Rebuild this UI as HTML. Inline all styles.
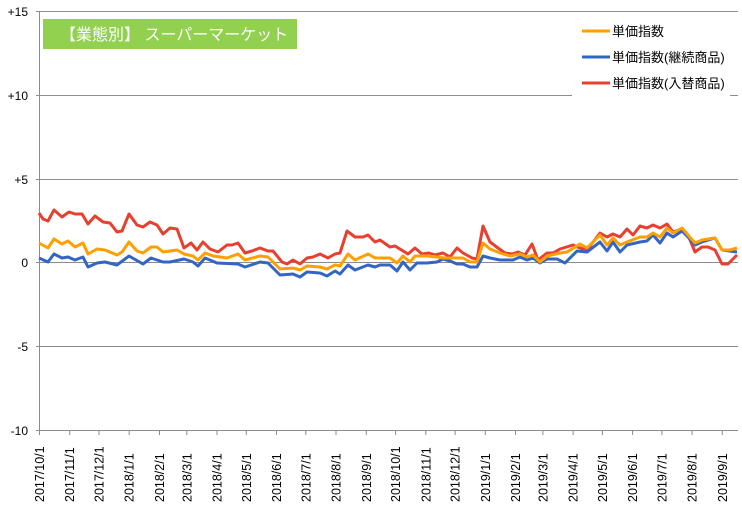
<!DOCTYPE html>
<html><head><meta charset="utf-8"><style>
body{margin:0;background:#fff;}
svg{display:block;font-family:"Liberation Sans","Noto Sans CJK JP",sans-serif;}
</style></head><body>
<svg width="742" height="510" viewBox="0 0 742 510" xmlns="http://www.w3.org/2000/svg">
<g stroke="#8c8c8c" stroke-width="1">
<line x1="36" y1="11.5" x2="738" y2="11.5"/>
<line x1="36" y1="95.5" x2="738" y2="95.5"/>
<line x1="36" y1="179.5" x2="738" y2="179.5"/>
<line x1="36" y1="262.5" x2="738" y2="262.5"/>
<line x1="36" y1="346.5" x2="738" y2="346.5"/>
<line x1="36" y1="430.5" x2="738" y2="430.5"/>
<line x1="39.5" y1="11" x2="39.5" y2="435"/>
<path d="M39.5 430v5M69.7 430v5M99 430v5M129.2 430v5M159.5 430v5M186.8 430v5M217 430v5M246.3 430v5M276.5 430v5M305.8 430v5M336 430v5M366.3 430v5M395.6 430v5M425.8 430v5M455.1 430v5M485.3 430v5M515.5 430v5M542.9 430v5M573.1 430v5M602.4 430v5M632.6 430v5M661.9 430v5M692.1 430v5M722.3 430v5"/>
</g>
<g font-size="12" fill="#000" text-anchor="end">
<text x="28" y="16">+15</text><text x="28" y="100">+10</text><text x="28" y="184">+5</text>
<text x="28" y="267">0</text><text x="28" y="351">-5</text><text x="28" y="435">-10</text>
</g>
<g font-size="12.5" fill="#000">
<text transform="translate(44,502) rotate(-90)">2017/10/1</text>
<text transform="translate(74.2,502) rotate(-90)">2017/11/1</text>
<text transform="translate(103.5,502) rotate(-90)">2017/12/1</text>
<text transform="translate(133.7,502) rotate(-90)">2018/1/1</text>
<text transform="translate(164,502) rotate(-90)">2018/2/1</text>
<text transform="translate(191.3,502) rotate(-90)">2018/3/1</text>
<text transform="translate(221.5,502) rotate(-90)">2018/4/1</text>
<text transform="translate(250.8,502) rotate(-90)">2018/5/1</text>
<text transform="translate(281,502) rotate(-90)">2018/6/1</text>
<text transform="translate(310.3,502) rotate(-90)">2018/7/1</text>
<text transform="translate(340.5,502) rotate(-90)">2018/8/1</text>
<text transform="translate(370.8,502) rotate(-90)">2018/9/1</text>
<text transform="translate(400.1,502) rotate(-90)">2018/10/1</text>
<text transform="translate(430.3,502) rotate(-90)">2018/11/1</text>
<text transform="translate(459.6,502) rotate(-90)">2018/12/1</text>
<text transform="translate(489.8,502) rotate(-90)">2019/1/1</text>
<text transform="translate(520,502) rotate(-90)">2019/2/1</text>
<text transform="translate(547.4,502) rotate(-90)">2019/3/1</text>
<text transform="translate(577.6,502) rotate(-90)">2019/4/1</text>
<text transform="translate(606.9,502) rotate(-90)">2019/5/1</text>
<text transform="translate(637.1,502) rotate(-90)">2019/6/1</text>
<text transform="translate(666.4,502) rotate(-90)">2019/7/1</text>
<text transform="translate(696.6,502) rotate(-90)">2019/8/1</text>
<text transform="translate(726.8,502) rotate(-90)">2019/9/1</text>
</g>
<rect x="572" y="12" width="158" height="85" fill="#fff"/>
<rect x="43" y="19" width="254" height="30" fill="#92d050"/>
<text x="60" y="40" font-size="16" fill="#fff">【業態別】 スーパーマーケット</text>
<g stroke-width="3" fill="none" stroke-linejoin="round">
<polyline stroke="#e84030" points="39,213 43,219 48,221 54,210 62,217 69,212 75,214 82,214 88,224 95,216 103,222 110,223 117,232 122,231 129,214 137,225 143,227 150,222 157,225 163,234 170,228 177,229 184,248 191,243 197,250 203,242 210,249 218,252 227,245 232,245 238,243 245,253 252,251 260,248 268,251 273,251 282,262 287,264 293,260 300,264 307,258 313,257 320,254 328,258 335,254 340,253 347,231 355,237 363,237 368,235 375,242 380,240 390,247 395,246 408,254 415,248 422,254 429,253 435,255 443,253 450,257 457,248 463,253 472,258 477,259 483,226 490,242 498,248 505,253 512,254 518,252 525,255 532,244 538,260 547,253 553,253 560,249 573,245 580,248 587,250 600,233 607,237 613,234 620,237 627,229 633,235 640,226 647,228 653,225 660,228 667,224 673,232 682,229 688,235 695,252 702,247 708,247 715,250 722,264 728,264 737,255"/>
<polyline stroke="#3366c4" points="39,258 48,262 54,254 62,258 68,257 75,260 83,257 88,267 97,263 105,262 117,265 129,256 143,264 151,258 163,262 170,262 184,259 193,262 198,266 205,258 217,263 238,264 245,267 260,262 268,263 280,275 293,274 300,277 307,272 320,273 327,276 335,271 340,274 348,265 355,270 368,265 375,267 380,265 390,265 397,271 403,262 410,270 417,263 427,263 437,262 443,259 450,261 457,264 463,264 470,267 477,267 483,256 490,258 500,260 513,260 520,257 527,260 533,258 540,263 547,259 557,259 565,263 577,251 587,252 600,242 607,251 613,242 620,252 627,245 640,242 647,241 653,235 660,243 667,233 673,237 682,231 688,237 695,245 702,242 715,238 722,250 737,252"/>
<polyline stroke="#ffa000" points="39,243 48,248 54,239 62,244 68,241 75,247 83,243 88,254 97,249 105,250 117,255 122,252 129,242 137,251 143,253 151,247 157,247 163,252 177,250 184,254 193,256 198,260 205,253 213,256 227,258 238,254 245,260 260,256 268,257 280,269 293,268 300,270 307,266 320,267 327,269 335,265 340,266 348,254 355,260 368,254 375,258 380,258 390,258 397,263 403,256 410,262 415,256 427,256 437,257 443,258 457,258 463,258 470,262 477,262 483,243 490,249 500,253 510,256 520,254 527,257 533,255 540,262 547,256 560,253 567,252 580,244 587,248 600,235 607,245 613,238 620,245 627,242 640,237 647,237 653,233 660,237 667,228 673,233 682,228 688,235 695,243 702,240 708,239 715,238 722,250 730,250 737,248"/>
</g>
<g stroke-width="3">
<line x1="582" y1="31" x2="610" y2="31" stroke="#ffa000"/>
<line x1="582" y1="57" x2="610" y2="57" stroke="#3366c4"/>
<line x1="582" y1="83" x2="610" y2="83" stroke="#e84030"/>
</g>
<g font-size="13" fill="#000">
<text x="612" y="36">単価指数</text>
<text x="612" y="62">単価指数(継続商品)</text>
<text x="612" y="88">単価指数(入替商品)</text>
</g>
</svg>
</body></html>
